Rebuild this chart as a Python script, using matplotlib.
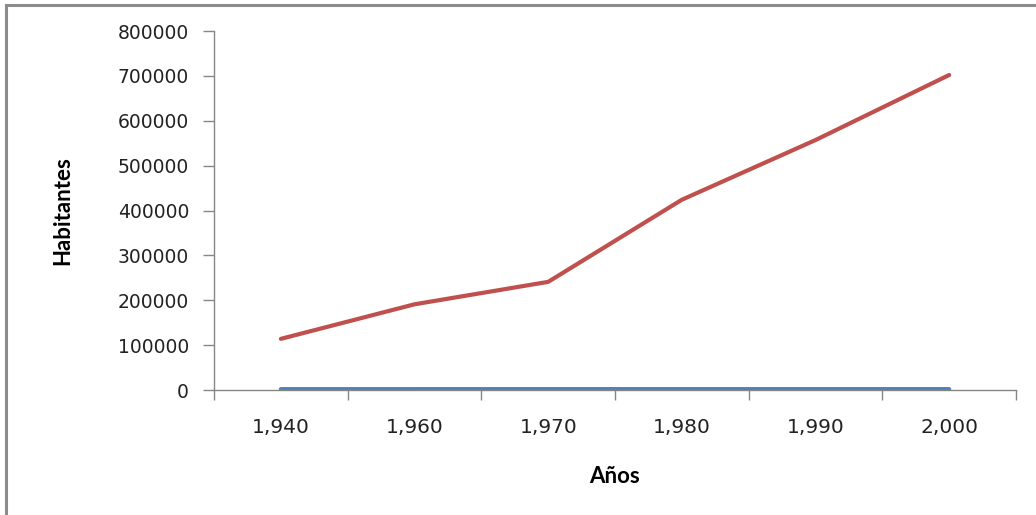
import matplotlib
matplotlib.use("Agg")
import matplotlib.pyplot as plt
from matplotlib.lines import Line2D
from matplotlib.ticker import FixedLocator, NullFormatter

# Population series by census year
anios = [1940, 1960, 1970, 1980, 1990, 2000]
etiquetas = ["1,940", "1,960", "1,970", "1,980", "1,990", "2,000"]
serie_anios = [1940, 1960, 1970, 1980, 1990, 2000]
habitantes = [114000, 191000, 241000, 424000, 557000, 702000]

fig = plt.figure(figsize=(10.36, 5.15), dpi=100)
ax = fig.add_axes([0.2066, 0.2427, 0.7741, 0.6971])

pos = [i + 0.5 for i in range(len(anios))]
ax.plot(pos, serie_anios, color="#4F81BD", lw=3.0, solid_capstyle="round", zorder=3)
ax.plot(pos, habitantes, color="#C0504D", lw=3.0, solid_capstyle="round",
        solid_joinstyle="round", zorder=3)

ax.set_xlim(0, len(anios))
ax.set_ylim(0, 800000)
ax.set_yticks(range(0, 800001, 100000))
ax.set_yticklabels([str(v) for v in range(0, 800001, 100000)])

ax.xaxis.set_major_locator(FixedLocator(list(range(len(anios) + 1))))
ax.xaxis.set_major_formatter(NullFormatter())
ax.xaxis.set_minor_locator(FixedLocator(pos))
ax.set_xticklabels(etiquetas, minor=True)

gris = "#868686"
for s in ["top", "right"]:
    ax.spines[s].set_visible(False)
for s in ["left", "bottom"]:
    ax.spines[s].set_color(gris)
    ax.spines[s].set_linewidth(1.0)

ax.tick_params(axis="y", which="major", direction="out", length=8, width=1,
               color=gris, labelsize=13.5, pad=10, labelcolor="#222222")
ax.tick_params(axis="x", which="major", direction="out", length=7, width=1,
               color=gris)
ax.tick_params(axis="x", which="minor", length=0, labelsize=14.5, pad=20,
               labelcolor="#222222")
for t in ax.get_yticklabels() + ax.get_xticklabels(minor=True):
    t.set_family("DejaVu Sans")

fig.text(0.0608, 0.592, "Habitantes", rotation=90, ha="center", va="center",
         fontsize=16, fontweight="bold", family="Lato")
fig.text(0.593, 0.0757, "Años", ha="center", va="center",
         fontsize=16, fontweight="bold", family="Lato")

# outer chart frame
fig.add_artist(Line2D([0.0058, 1.0], [0.990, 0.990], color="#8c8c8c", lw=2.2,
                      transform=fig.transFigure))
fig.add_artist(Line2D([0.0058, 0.0058], [0.0, 0.990], color="#8c8c8c", lw=2.2,
                      transform=fig.transFigure))

fig.savefig("out.png", dpi=100, facecolor="white")
